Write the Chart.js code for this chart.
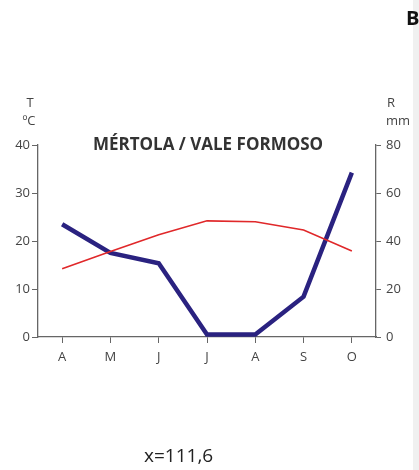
<!DOCTYPE html>
<html>
<head>
<meta charset="utf-8">
<script src="https://cdn.jsdelivr.net/npm/chart.js@4.4.0/dist/chart.umd.min.js"></script>
<style>
  html, body { margin: 0; padding: 0; background: #fff; }
  #wrap { position: relative; width: 419px; height: 470px; overflow: hidden; }
  #strip { position: absolute; left: 413px; top: 0; width: 6px; height: 470px; background: #f0f0f0; }
  canvas { position: absolute; left: 0; top: 0; }
</style>
</head>
<body>
<div id="wrap">
  <div id="strip"></div>
  <canvas id="chart" width="419" height="470"></canvas>
</div>
<script>
// months (April to October)
const months = ['A', 'M', 'J', 'J', 'A', 'S', 'O'];
// mean temperature, ºC (left axis)
const temperature = [14.2, 17.8, 21.3, 24.2, 24.0, 22.3, 17.9];
// precipitation, mm (right axis)
const rainfall = [47, 35, 30.7, 1, 1, 16.8, 68.5];

const titleText = 'MÉRTOLA / VALE FORMOSO';
const footText = 'x=111,6';

// extra texts: units, title, panel letter, footnote
const extraText = {
  id: 'extraText',
  afterDraw(chart) {
    const ctx = chart.ctx;
    const area = chart.chartArea;
    ctx.save();
    ctx.textBaseline = 'middle';
    ctx.fillStyle = '#444';
    ctx.font = '13px "Open Sans"';
    ctx.textAlign = 'center';
    ctx.fillText('T', 30, 103);
    ctx.fillText('ºC', 29, 121);
    ctx.textAlign = 'left';
    ctx.fillText('R', 387, 103);
    ctx.fillText('mm', 386, 121);

    ctx.fillStyle = '#333';
    ctx.font = 'bold 17px "Open Sans"';
    ctx.textAlign = 'center';
    ctx.fillText(titleText, 208, area.top);

    ctx.fillStyle = '#111';
    ctx.font = 'bold 20px "Open Sans"';
    ctx.textAlign = 'left';
    ctx.fillText('B', 406, 19);

    ctx.fillStyle = '#222';
    ctx.font = '19px "Open Sans"';
    ctx.fillText(footText, 144, 457);
    ctx.restore();
  }
};

const ctx = document.getElementById('chart').getContext('2d');
new Chart(ctx, {
  type: 'line',
  data: {
    labels: months,
    datasets: [
      {
        data: temperature,
        yAxisID: 'yT',
        borderColor: '#e0282a',
        borderWidth: 1.6,
        pointRadius: 0,
        tension: 0
      },
      {
        data: rainfall,
        yAxisID: 'yR',
        borderColor: '#2a2280',
        borderWidth: 4.5,
        pointRadius: 0,
        tension: 0,
        borderJoinStyle: 'miter'
      }
    ]
  },
  options: {
    responsive: false,
    animation: false,
    layout: { padding: { top: 145, left: 0, right: 0, bottom: 0 } },
    plugins: { legend: { display: false }, tooltip: { enabled: false } },
    scales: {
      x: {
        offset: true,
        afterFit: s => { s.height = 133; },
        grid: { drawOnChartArea: false, drawTicks: true, tickLength: 6, color: '#666' },
        border: { color: '#666', width: 1.3 },
        ticks: { color: '#444', font: { family: 'Open Sans', size: 13 }, padding: 6 }
      },
      yT: {
        position: 'left',
        min: 0, max: 40,
        afterFit: s => { s.width = 38; },
        grid: { drawOnChartArea: false, drawTicks: true, tickLength: 6, color: '#666' },
        border: { color: '#666', width: 1.3 },
        ticks: { stepSize: 10, color: '#444', font: { family: 'Open Sans', size: 13 }, padding: 2 }
      },
      yR: {
        position: 'right',
        min: 0, max: 80,
        afterFit: s => { s.width = 43; },
        grid: { drawOnChartArea: false, drawTicks: true, tickLength: 5, color: '#666' },
        border: { color: '#666', width: 1.3 },
        ticks: { stepSize: 20, color: '#444', font: { family: 'Open Sans', size: 13 }, padding: 5 }
      }
    }
  },
  plugins: [extraText]
});
</script>
</body>
</html>
